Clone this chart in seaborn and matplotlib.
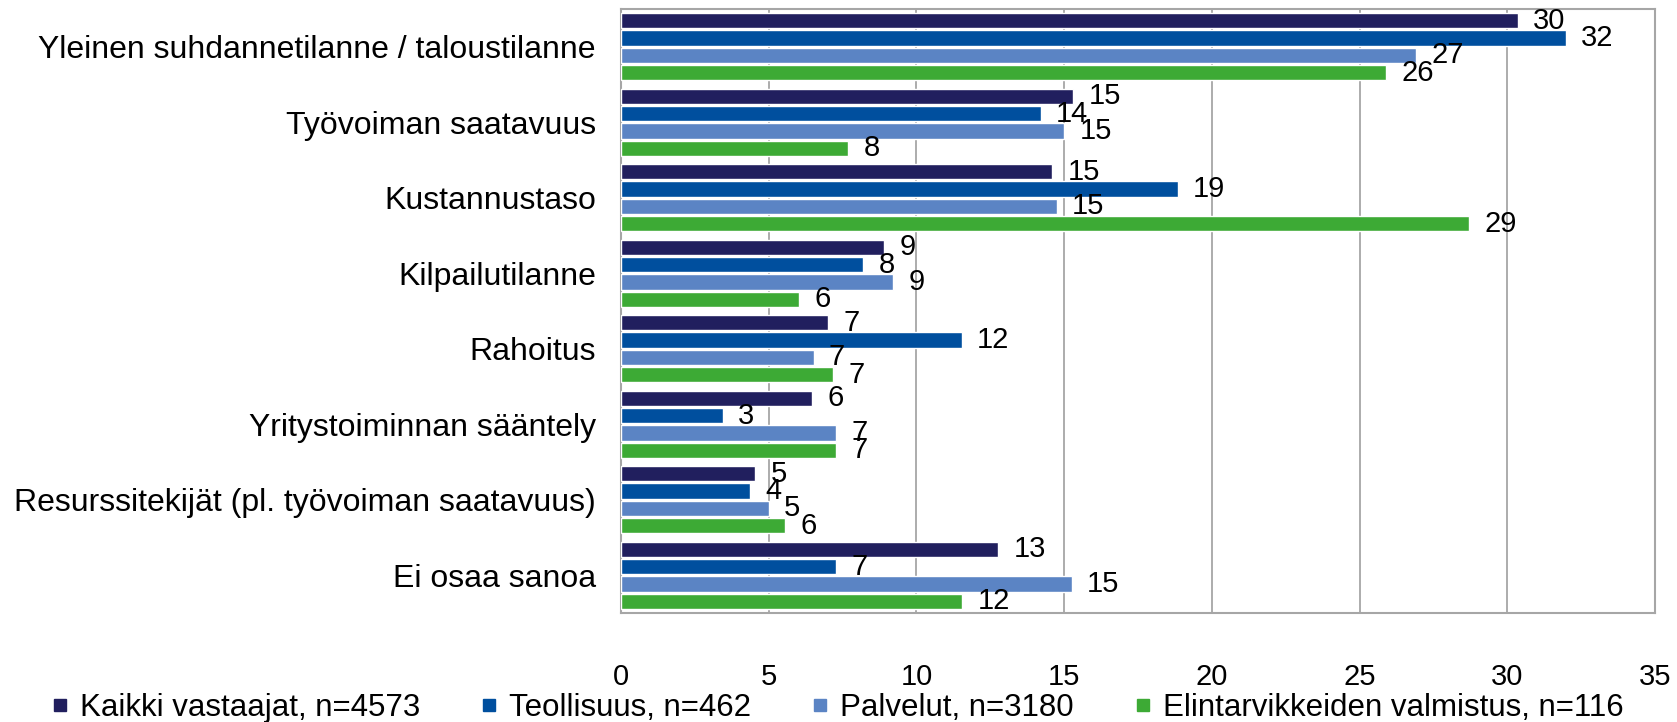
import matplotlib
matplotlib.use("Agg")
import matplotlib.pyplot as plt
from matplotlib.lines import Line2D
import pandas as pd
import seaborn as sns

# ---------------------------------------------------------------------------
# Data (percent of respondents)
# ---------------------------------------------------------------------------
CATEGORIES = [
    "Yleinen suhdannetilanne / taloustilanne",
    "Työvoiman saatavuus",
    "Kustannustaso",
    "Kilpailutilanne",
    "Rahoitus",
    "Yritystoiminnan sääntely",
    "Resurssitekijät (pl. työvoiman saatavuus)",
    "Ei osaa sanoa",
]
SERIES = [
    "Kaikki vastaajat, n=4573",
    "Teollisuus, n=462",
    "Palvelut, n=3180",
    "Elintarvikkeiden valmistus, n=116",
]
KAIKKI     = [30.35, 15.3, 14.6, 8.9, 7.0, 6.47, 4.55, 12.76]
TEOLLISUUS = [31.98, 14.2, 18.84, 8.2, 11.54, 3.44, 4.36, 7.29]
PALVELUT   = [26.9, 15.0, 14.75, 9.22, 6.52, 7.29, 5.0, 15.26]
ELINTARV   = [25.9, 7.7, 28.7, 6.04, 7.18, 7.28, 5.55, 11.55]

COLORS = ["#211F5E", "#004F9E", "#5B84C4", "#3DAA35"]

df = pd.DataFrame({"kategoria": CATEGORIES * 4,
                   "sarja": [s for s in SERIES for _ in CATEGORIES],
                   "arvo": KAIKKI + TEOLLISUUS + PALVELUT + ELINTARV})

# ---------------------------------------------------------------------------
# Plot
# ---------------------------------------------------------------------------
sns.set_style("white")
plt.rcParams["font.family"] = ["Liberation Sans", "DejaVu Sans"]
plt.rcParams["text.color"] = "black"
plt.rcParams["xtick.color"] = "black"
plt.rcParams["ytick.color"] = "black"

fig, ax = plt.subplots(figsize=(16.77, 7.22), dpi=100)
fig.subplots_adjust(left=0.3703, right=0.9869, top=0.9875, bottom=0.151)

sns.barplot(data=df, x="arvo", y="kategoria", hue="sarja", order=CATEGORIES,
            hue_order=SERIES, palette=COLORS, orient="h", width=0.92, gap=0.12,
            saturation=1, legend=False, ax=ax, zorder=3)

for cont in ax.containers:
    ax.bar_label(cont, fmt="%.0f", padding=11, fontsize=21, color="black")

ax.set_xlim(0, 35)
ax.set_xticks(range(0, 36, 5))
ax.set_xlabel(""); ax.set_ylabel("")
ax.xaxis.grid(True, color="#A6A6A6", linewidth=1.3, zorder=0)
ax.set_axisbelow(True)
for sp in ax.spines.values():
    sp.set_visible(True)
    sp.set_color("#A6A6A6")
    sp.set_linewidth(1.5)
ax.tick_params(axis="x", length=0, pad=36, labelsize=21)
ax.tick_params(axis="y", length=0, pad=18, labelsize=23)

handles = [Line2D([], [], marker="s", linestyle="", markersize=8, color=c)
           for c in COLORS]
fig.legend(handles, SERIES, loc="center", bbox_to_anchor=(0.5, 0.02), ncol=4,
           frameon=False, fontsize=22.5, handlelength=0.4, handletextpad=0.45,
           columnspacing=2.0, borderpad=0)

plt.savefig("out.png", dpi=100)
plt.close()
